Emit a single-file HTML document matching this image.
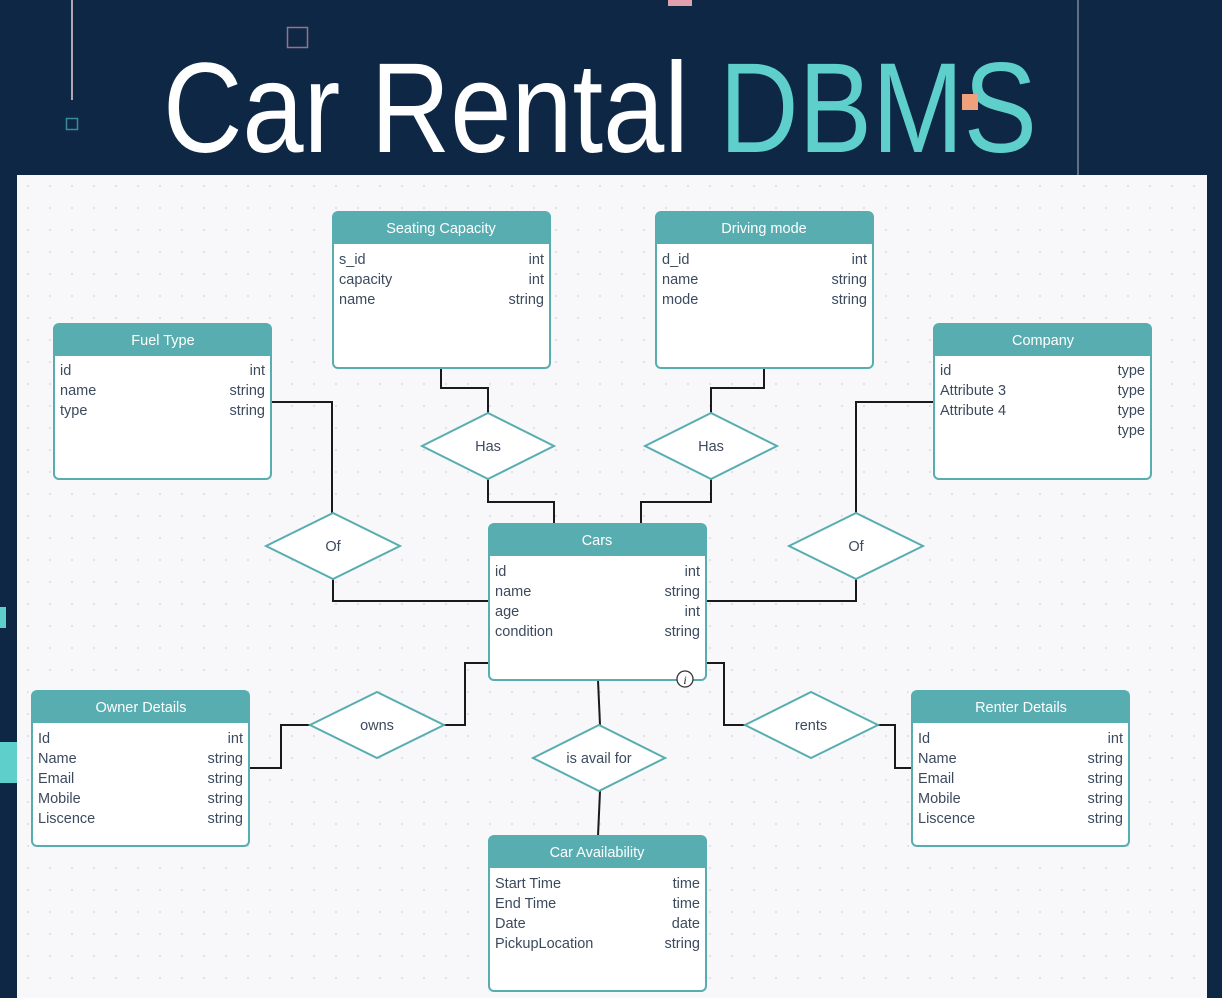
<!DOCTYPE html>
<html><head><meta charset="utf-8"><style>
html,body{margin:0;padding:0;background:#0d2745;}
svg{display:block}
text{font-family:"Liberation Sans",sans-serif;}
.h{fill:#fff;font-size:14.5px;text-anchor:middle}
.l{fill:#3c4a5e;font-size:14.5px}
.r{fill:#3c4a5e;font-size:14.5px;text-anchor:end}
.d{fill:#fff;stroke:#58adb0;stroke-width:2}
.dl{fill:#3c4a5e;font-size:14.5px;text-anchor:middle}
.c{fill:none;stroke:#1a1a1a;stroke-width:2}
</style></head><body>
<svg width="1222" height="998" viewBox="0 0 1222 998" xmlns="http://www.w3.org/2000/svg">
<defs>
<pattern id="dots" x="17" y="175" width="22" height="22" patternUnits="userSpaceOnUse">
<circle cx="11" cy="11" r="1" fill="#d8dbe0"/></pattern>
</defs>
<rect width="1222" height="998" fill="#0d2745"/>
<line x1="72" y1="0" x2="72" y2="100" stroke="#e8d0dc" stroke-width="1.5"/>
<rect x="287.5" y="27.5" width="20" height="20" fill="none" stroke="#9a7088" stroke-width="1.5"/>
<rect x="66.5" y="118.5" width="11" height="11" fill="none" stroke="#3a8a9a" stroke-width="1.5"/>
<rect x="668" y="0" width="24" height="6" fill="#e0a0b0"/>
<line x1="1078" y1="0" x2="1078" y2="175" stroke="#7a8898" stroke-width="1.5"/>
<rect x="0" y="607" width="6" height="21" fill="#5ecfcb"/>
<rect x="0" y="742" width="17" height="41" fill="#5ecfcb"/>
<text x="163" y="152" textLength="874" lengthAdjust="spacingAndGlyphs" style="font-family:'Liberation Sans Narrow','Liberation Sans',sans-serif;font-size:128px;fill:#fff">Car Rental <tspan fill="#5ecfcb">DBMS</tspan></text>
<rect x="962" y="94" width="16" height="16" fill="#f0a07a"/>

<rect x="17" y="175" width="1190" height="823" fill="#f8f8fa"/>
<rect x="17" y="175" width="1190" height="823" fill="url(#dots)"/>

<g class="c">
<polyline points="441,368 441,388 488,388 488,413"/>
<polyline points="488,479 488,502 554,502 554,524"/>
<polyline points="764,368 764,388 711,388 711,413"/>
<polyline points="711,479 711,502 641,502 641,524"/>
<polyline points="271,402 332,402 332,513"/>
<polyline points="333,579 333,601 489,601"/>
<polyline points="934,402 856,402 856,513"/>
<polyline points="856,579 856,601 706,601"/>
<polyline points="489,663 465,663 465,725 444,725"/>
<polyline points="310,725 281,725 281,768 249,768"/>
<polyline points="706,663 724,663 724,725 745,725"/>
<polyline points="878,725 895,725 895,768 912,768"/>
<polyline points="598,680 600,725"/>
<polyline points="600,791 598,836"/>
</g>

<polygon class="d" points="422,446 488,413 554,446 488,479"/><text class="dl" x="488" y="451">Has</text>
<polygon class="d" points="645,446 711,413 777,446 711,479"/><text class="dl" x="711" y="451">Has</text>
<polygon class="d" points="266,546 333,513 400,546 333,579"/><text class="dl" x="333" y="551">Of</text>
<polygon class="d" points="789,546 856,513 923,546 856,579"/><text class="dl" x="856" y="551">Of</text>
<polygon class="d" points="310,725 377,692 444,725 377,758"/><text class="dl" x="377" y="730">owns</text>
<polygon class="d" points="745,725 811,692 878,725 811,758"/><text class="dl" x="811" y="730">rents</text>
<polygon class="d" points="533,758 599,725 665,758 599,791"/><text class="dl" x="599" y="763">is avail for</text>

<g>
<rect x="333" y="212" width="217" height="156" rx="5" fill="#fff" stroke="#58adb0" stroke-width="2"/>
<path d="M333,244 V217 a5,5 0 0 1 5,-5 H545 a5,5 0 0 1 5,5 V244 Z" fill="#58adb0"/>
<text class="h" x="441" y="233">Seating Capacity</text>
<text class="l" x="339" y="264">s_id</text><text class="r" x="544" y="264">int</text>
<text class="l" x="339" y="284">capacity</text><text class="r" x="544" y="284">int</text>
<text class="l" x="339" y="304">name</text><text class="r" x="544" y="304">string</text>
</g>
<g>
<rect x="656" y="212" width="217" height="156" rx="5" fill="#fff" stroke="#58adb0" stroke-width="2"/>
<path d="M656,244 V217 a5,5 0 0 1 5,-5 H868 a5,5 0 0 1 5,5 V244 Z" fill="#58adb0"/>
<text class="h" x="764" y="233">Driving mode</text>
<text class="l" x="662" y="264">d_id</text><text class="r" x="867" y="264">int</text>
<text class="l" x="662" y="284">name</text><text class="r" x="867" y="284">string</text>
<text class="l" x="662" y="304">mode</text><text class="r" x="867" y="304">string</text>
</g>
<g>
<rect x="54" y="324" width="217" height="155" rx="5" fill="#fff" stroke="#58adb0" stroke-width="2"/>
<path d="M54,356 V329 a5,5 0 0 1 5,-5 H266 a5,5 0 0 1 5,5 V356 Z" fill="#58adb0"/>
<text class="h" x="163" y="345">Fuel Type</text>
<text class="l" x="60" y="375">id</text><text class="r" x="265" y="375">int</text>
<text class="l" x="60" y="395">name</text><text class="r" x="265" y="395">string</text>
<text class="l" x="60" y="415">type</text><text class="r" x="265" y="415">string</text>
</g>
<g>
<rect x="934" y="324" width="217" height="155" rx="5" fill="#fff" stroke="#58adb0" stroke-width="2"/>
<path d="M934,356 V329 a5,5 0 0 1 5,-5 H1146 a5,5 0 0 1 5,5 V356 Z" fill="#58adb0"/>
<text class="h" x="1043" y="345">Company</text>
<text class="l" x="940" y="375">id</text><text class="r" x="1145" y="375">type</text>
<text class="l" x="940" y="395">Attribute 3</text><text class="r" x="1145" y="395">type</text>
<text class="l" x="940" y="415">Attribute 4</text><text class="r" x="1145" y="415">type</text>
<text class="r" x="1145" y="435">type</text>
</g>
<g>
<rect x="489" y="524" width="217" height="156" rx="5" fill="#fff" stroke="#58adb0" stroke-width="2"/>
<path d="M489,556 V529 a5,5 0 0 1 5,-5 H701 a5,5 0 0 1 5,5 V556 Z" fill="#58adb0"/>
<text class="h" x="597" y="545">Cars</text>
<text class="l" x="495" y="576">id</text><text class="r" x="700" y="576">int</text>
<text class="l" x="495" y="596">name</text><text class="r" x="700" y="596">string</text>
<text class="l" x="495" y="616">age</text><text class="r" x="700" y="616">int</text>
<text class="l" x="495" y="636">condition</text><text class="r" x="700" y="636">string</text>
<circle cx="685" cy="679" r="8" fill="#fff" stroke="#333" stroke-width="1.3"/>
<text x="685" y="684" style="font-family:'Liberation Serif',serif;font-style:italic;font-size:12px;fill:#222;text-anchor:middle">i</text>
</g>
<g>
<rect x="32" y="691" width="217" height="155" rx="5" fill="#fff" stroke="#58adb0" stroke-width="2"/>
<path d="M32,723 V696 a5,5 0 0 1 5,-5 H244 a5,5 0 0 1 5,5 V723 Z" fill="#58adb0"/>
<text class="h" x="141" y="712">Owner Details</text>
<text class="l" x="38" y="743">Id</text><text class="r" x="243" y="743">int</text>
<text class="l" x="38" y="763">Name</text><text class="r" x="243" y="763">string</text>
<text class="l" x="38" y="783">Email</text><text class="r" x="243" y="783">string</text>
<text class="l" x="38" y="803">Mobile</text><text class="r" x="243" y="803">string</text>
<text class="l" x="38" y="823">Liscence</text><text class="r" x="243" y="823">string</text>
</g>
<g>
<rect x="912" y="691" width="217" height="155" rx="5" fill="#fff" stroke="#58adb0" stroke-width="2"/>
<path d="M912,723 V696 a5,5 0 0 1 5,-5 H1124 a5,5 0 0 1 5,5 V723 Z" fill="#58adb0"/>
<text class="h" x="1021" y="712">Renter Details</text>
<text class="l" x="918" y="743">Id</text><text class="r" x="1123" y="743">int</text>
<text class="l" x="918" y="763">Name</text><text class="r" x="1123" y="763">string</text>
<text class="l" x="918" y="783">Email</text><text class="r" x="1123" y="783">string</text>
<text class="l" x="918" y="803">Mobile</text><text class="r" x="1123" y="803">string</text>
<text class="l" x="918" y="823">Liscence</text><text class="r" x="1123" y="823">string</text>
</g>
<g>
<rect x="489" y="836" width="217" height="155" rx="5" fill="#fff" stroke="#58adb0" stroke-width="2"/>
<path d="M489,868 V841 a5,5 0 0 1 5,-5 H701 a5,5 0 0 1 5,5 V868 Z" fill="#58adb0"/>
<text class="h" x="597" y="857">Car Availability</text>
<text class="l" x="495" y="888">Start Time</text><text class="r" x="700" y="888">time</text>
<text class="l" x="495" y="908">End Time</text><text class="r" x="700" y="908">time</text>
<text class="l" x="495" y="928">Date</text><text class="r" x="700" y="928">date</text>
<text class="l" x="495" y="948">PickupLocation</text><text class="r" x="700" y="948">string</text>
</g>
</svg>
</body></html>
